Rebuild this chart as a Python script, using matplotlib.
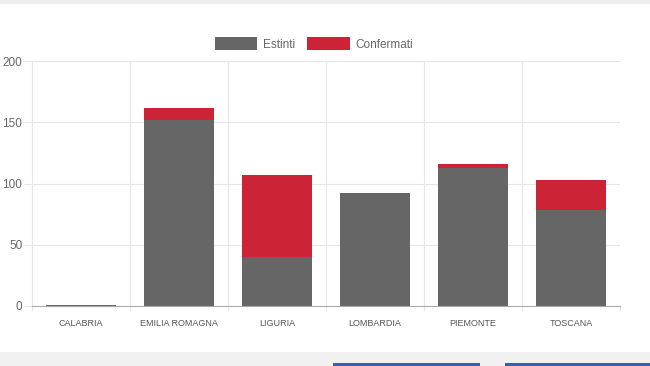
import matplotlib
matplotlib.use("Agg")
import matplotlib.pyplot as plt
from matplotlib.patches import Rectangle
import numpy as np

regions = ["CALABRIA", "EMILIA ROMAGNA", "LIGURIA", "LOMBARDIA", "PIEMONTE", "TOSCANA"]
estinti = [1, 152, 40, 92, 113, 78]
confermati = [0, 10, 67, 0, 3, 25]

GRAY = "#666666"
RED = "#cc2336"
GRID = "#e6e6e6"

plt.rcParams['font.family'] = ['Liberation Sans', 'DejaVu Sans']

fig = plt.figure(figsize=(6.5, 3.66), dpi=100)
fig.patch.set_facecolor("white")

# page chrome: top strip, bottom strip, buttons
fig.patches.append(Rectangle((0, 1 - 4 / 366), 1, 4 / 366, transform=fig.transFigure,
                             facecolor="#eeeeee", edgecolor="none"))
fig.patches.append(Rectangle((0, 0), 1, 14 / 366, transform=fig.transFigure,
                             facecolor="#f1f1f1", edgecolor="none"))
fig.patches.append(Rectangle((333 / 650, 0), 147 / 650, 3 / 366, transform=fig.transFigure,
                             facecolor="#2e64b0", edgecolor="none"))
fig.patches.append(Rectangle((505 / 650, 0), 145 / 650, 3 / 366, transform=fig.transFigure,
                             facecolor="#2e64b0", edgecolor="none"))

ax = fig.add_axes([32 / 650, 1 - 306 / 366, 588 / 650, 245 / 366])
x = np.arange(len(regions))
ax.bar(x, estinti, width=0.72, color=GRAY, label="Estinti", zorder=3)
ax.bar(x, confermati, width=0.72, bottom=estinti, color=RED, label="Confermati", zorder=3)

ax.set_xlim(-0.5, len(regions) - 0.5)
ax.set_ylim(0, 200)
ax.set_yticks([0, 50, 100, 150, 200])
ax.set_xticks(x)
ax.set_xticklabels(regions, fontsize=6.5, color="#555555")
ax.tick_params(axis="x", length=0, pad=9)
ax.tick_params(axis="y", length=6, color=GRID, labelsize=8.5, labelcolor="#666666", pad=1)

for y in [50, 100, 150, 200]:
    ax.axhline(y, color=GRID, lw=0.8, zorder=1)
for b in np.arange(0.5, len(regions) - 0.5, 1):
    ax.axvline(b, color=GRID, lw=0.8, zorder=1)
    ax.plot([b, b], [0, -3], color=GRID, lw=0.8, clip_on=False)
ax.plot([-0.5, -0.5], [0, -3], color=GRID, lw=0.8, clip_on=False)
ax.plot([len(regions) - 0.5] * 2, [0, -3], color=GRID, lw=0.8, clip_on=False)

for s in ["top", "right"]:
    ax.spines[s].set_visible(False)
ax.spines["left"].set_color(GRID)
ax.spines["bottom"].set_color("#aaaaaa")
ax.spines["bottom"].set_zorder(4)

fig.legend(loc="center", bbox_to_anchor=(314 / 650, 1 - 44 / 366), ncol=2, frameon=False,
           fontsize=8.5, handlelength=3.6, handleheight=1.3, handletextpad=0.5,
           columnspacing=1.0, labelcolor="#666666")

fig.savefig("out.png", dpi=100)
